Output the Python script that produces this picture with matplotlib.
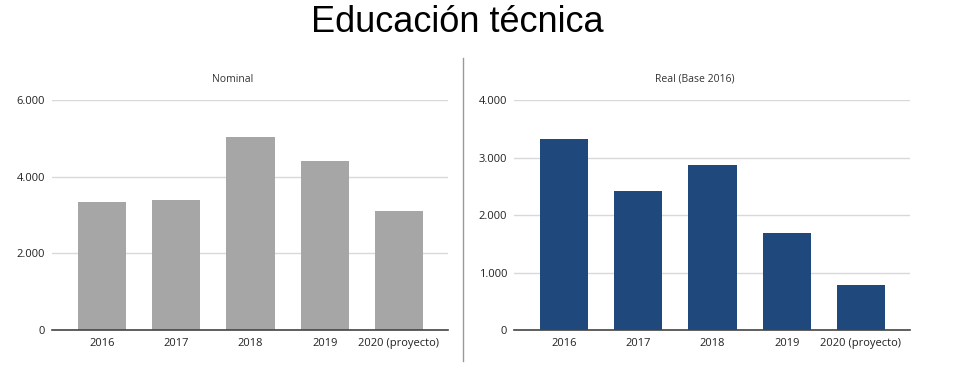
import matplotlib
matplotlib.use("Agg")
import matplotlib.pyplot as plt
from matplotlib.ticker import FuncFormatter
from matplotlib.lines import Line2D

# Data
years = ["2016", "2017", "2018", "2019", "2020 (proyecto)"]
nominal = [3340, 3385, 5035, 4400, 3115]
real = [3320, 2410, 2875, 1685, 780]

nominal_ticks = [0, 2000, 4000, 6000]
real_ticks = [0, 1000, 2000, 3000, 4000]

plt.rcParams['font.family'] = ['Open Sans', 'DejaVu Sans']


def miles(v, pos):
    return f"{int(v):,}".replace(",", ".")


def draw_panel(ax, values, ticks, color, title):
    x = range(len(years))
    ax.bar(x, values, width=0.65, color=color, zorder=3)
    ax.set_xlim(-0.67, len(years) - 1 + 0.66)
    ax.set_ylim(0, ticks[-1])
    ax.set_yticks(ticks)
    ax.yaxis.set_major_formatter(FuncFormatter(miles))
    ax.set_xticks(list(x))
    ax.set_xticklabels(years)
    ax.grid(axis='y', color='#d9d9d9', linewidth=1, zorder=0)
    for s in ['top', 'right', 'left']:
        ax.spines[s].set_visible(False)
    ax.spines['bottom'].set_color('#444444')
    ax.spines['bottom'].set_linewidth(1.2)
    ax.spines['bottom'].set_zorder(4)
    ax.tick_params(axis='both', length=0, labelsize=8, colors='#222222')
    ax.tick_params(axis='y', pad=5)
    ax.tick_params(axis='x', pad=6)
    ax.set_title(title, fontsize=7.5, color='#333333', pad=13, x=0.457)


fig = plt.figure(figsize=(9.6, 3.65), dpi=100)
ax1 = fig.add_axes([0.0542, 0.0959, 0.4125, 0.630])
ax2 = fig.add_axes([0.5354, 0.0959, 0.4125, 0.630])

draw_panel(ax1, nominal, nominal_ticks, '#a6a6a6', 'Nominal')
draw_panel(ax2, real, real_ticks, '#1f497d', 'Real (Base 2016)')

fig.text(0.476, 0.938, 'Educación técnica', ha='center', va='center',
         fontsize=26, family=['Liberation Sans', 'DejaVu Sans'], color='black')

# vertical divider between panels
fig.add_artist(Line2D([0.482, 0.482], [0.01, 0.84], color='#999999', linewidth=1,
                      transform=fig.transFigure))

fig.savefig('out.png', dpi=100)
